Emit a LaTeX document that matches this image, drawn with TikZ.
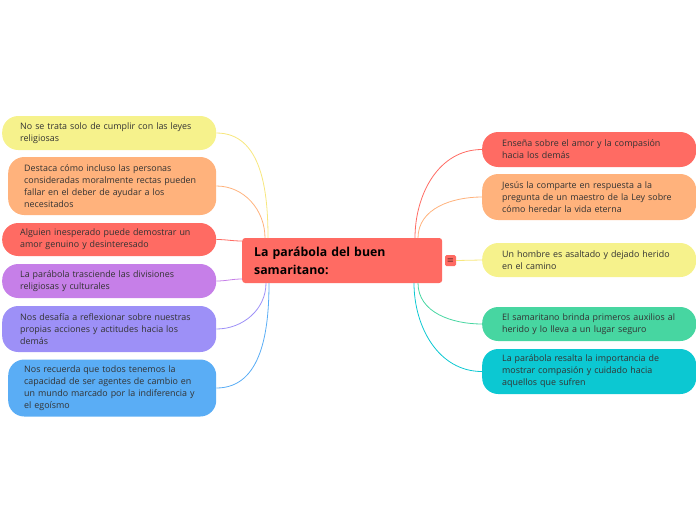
\documentclass[tikz,border=0pt]{standalone}
\usepackage{fontspec}
\setmainfont{Open Sans}
\usetikzlibrary{positioning}
\definecolor{mText}{HTML}{333333}
\definecolor{mYellow}{HTML}{F6F28C}
\definecolor{mPeach}{HTML}{FFB27C}
\definecolor{mRed}{HTML}{FF6B63}
\definecolor{mPurple}{HTML}{C67FE8}
\definecolor{mLavender}{HTML}{9D90F7}
\definecolor{mBlue}{HTML}{5AADF5}
\definecolor{mGreen}{HTML}{47D6A1}
\definecolor{mTeal}{HTML}{0CC8D2}

\begin{document}
\begin{tikzpicture}[x=1pt, y=-1pt,
      leaf/.style={rounded corners=16pt, anchor=west, align=left, text=mText,
        minimum width=214pt, inner xsep=18pt, text width=178pt,
        font=\fontsize{8.9}{12}\selectfont},
      leafin/.style={leaf, minimum width=208pt, inner xsep=16pt, text width=176pt},
      leafr/.style={leaf, inner xsep=20pt, text width=174pt},
      link/.style={line width=0.8pt}]
    \useasboundingbox (0,0) rectangle (696,520);
    % centre
    \node[fill=mRed, rounded corners=3pt, anchor=west, minimum width=200pt,
      minimum height=45pt, inner xsep=12pt, text width=176pt, align=left,
      font=\fontsize{12.3}{18}\bfseries] (ctr) at (242,260.5)
      {La parábola del buen\\samaritano:};
    \node[fill=mRed, rounded corners=1.5pt, minimum size=11pt, inner sep=0pt,
      font=\fontsize{8}{8}\selectfont] (menu) at (450.5,260.5) {$\equiv$};
    \coordinate (t1) at (268,238);
    \coordinate (t2) at (265,238);
    \coordinate (w1) at (242,241);
    \coordinate (w2) at (242,279);
    \coordinate (b1) at (266,283);
    \coordinate (b2) at (269,283);
    \coordinate (t3) at (415,238);
    \coordinate (t4) at (418,238);
    \coordinate (b3) at (418,283);
    \coordinate (b4) at (414,283);
    % left
    \node[leaf, fill=mYellow, minimum height=34pt] (l1) at (2,133)
      {No se trata solo de cumplir con las leyes\\religiosas};
    \node[leafin, fill=mPeach, minimum height=58pt] (l2) at (8,186)
      {Destaca cómo incluso las personas\\consideradas moralmente rectas pueden\\fallar en el deber de ayudar a los\\necesitados};
    \node[leaf, fill=mRed, minimum height=33pt] (l3) at (2,239.5)
      {Alguien inesperado puede demostrar un\\amor genuino y desinteresado};
    \node[leaf, fill=mPurple, minimum height=34pt] (l4) at (2,281)
      {La parábola trasciende las divisiones\\religiosas y culturales};
    \node[leaf, fill=mLavender, minimum height=46pt] (l5) at (2,329)
      {Nos desafía a reflexionar sobre nuestras\\propias acciones y actitudes hacia los\\demás};
    \node[leafin, fill=mBlue, minimum height=57pt] (l6) at (8,388)
      {Nos recuerda que todos tenemos la\\capacidad de ser agentes de cambio en\\un mundo marcado por la indiferencia y\\el egoísmo};
    % right
    \node[leafr, fill=mRed, minimum height=35pt] (r1) at (482,149.5)
      {Enseña sobre el amor y la compasión\\hacia los demás};
    \node[leafr, fill=mPeach, minimum height=46pt] (r2) at (482,197)
      {Jesús la comparte en respuesta a la\\pregunta de un maestro de la Ley sobre\\cómo heredar la vida eterna};
    \node[leafr, fill=mYellow, minimum height=34pt] (r3) at (482,260)
      {Un hombre es asaltado y dejado herido\\en el camino};
    \node[leafr, fill=mGreen, minimum height=34pt] (r4) at (482,324)
      {El samaritano brinda primeros auxilios al\\herido y lo lleva a un lugar seguro};
    \node[leafr, fill=mTeal, minimum height=45pt] (r5) at (482,371.5)
      {La parábola resalta la importancia de\\mostrar compasión y cuidado hacia\\aquellos que sufren};
    % links
    \draw[link, mYellow!90!orange] (l1.east) to[out=0, in=90] (t1);
    \draw[link, mPeach] (l2.east) to[out=0, in=90] (t2);
    \draw[link, mRed] (l3.east) to[out=0, in=180] (w1);
    \draw[link, mPurple] (l4.east) to[out=0, in=180] (w2);
    \draw[link, mLavender] (l5.east) to[out=0, in=-90] (b1);
    \draw[link, mBlue] (l6.east) to[out=0, in=-90] (b2);
    \draw[link, mRed] (t3) to[out=90, in=180] (r1.west);
    \draw[link, mPeach] (t4) to[out=90, in=180] (r2.west);
    \draw[link, mYellow!90!orange] (menu.east) -- (r3.west);
    \draw[link, mGreen] (b3) to[out=-90, in=180] (r4.west);
    \draw[link, mTeal] (b4) to[out=-90, in=180] (r5.west);
  \end{tikzpicture}
\end{document}
